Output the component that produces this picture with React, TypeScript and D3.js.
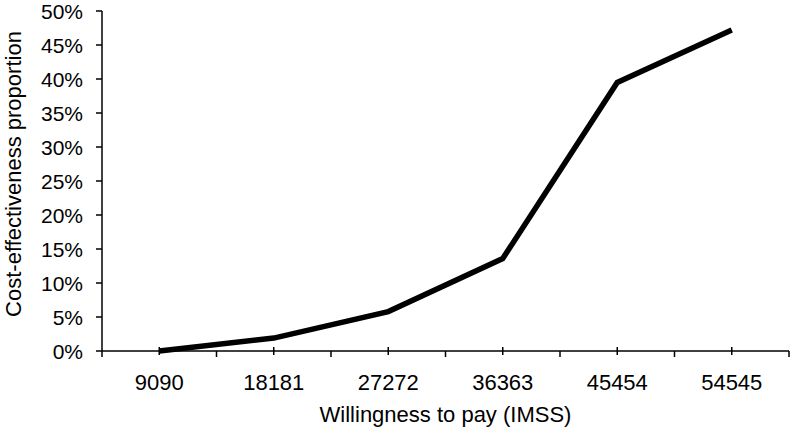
import React from 'react';
import * as d3 from 'd3';

// willingness to pay thresholds (IMSS) and the share found cost-effective
const categories = ['9090', '18181', '27272', '36363', '45454', '54545'];
const proportion = [0, 1.9, 5.8, 13.6, 39.5, 47.2];
const yTicks = [0, 5, 10, 15, 20, 25, 30, 35, 40, 45, 50];

const width = 793;
const height = 431;
const left = 102;
const right = 789;
const top = 11;
const bottom = 351;
const font = '"Liberation Sans", Arial, Helvetica, sans-serif';

export default function App() {
  const x = d3.scaleBand().domain(categories).range([left, right]);
  const y = d3.scaleLinear().domain([0, 50]).range([bottom, top]);
  const cx = (c: string) => (x(c) as number) + x.bandwidth() / 2;

  const line = d3
    .line<number>()
    .x((d, i) => cx(categories[i]))
    .y((d) => y(d));

  const bounds = categories.map((c) => x(c) as number).concat([right]);

  return (
    <svg
      width={width}
      height={height}
      style={{ position: 'absolute', left: 0, top: 0, background: '#fff' }}
      fontFamily={font}
    >
      {/* y axis */}
      <line x1={left} x2={left} y1={y(50)} y2={y(0)} stroke="#000" strokeWidth={1.5} />
      {yTicks.map((t) => (
        <g key={t}>
          <line x1={left - 6} x2={left} y1={y(t)} y2={y(t)} stroke="#000" strokeWidth={1.5} />
          <text x={83} y={y(t)} dy="0.36em" textAnchor="end" fontSize={21}>
            {t + '%'}
          </text>
        </g>
      ))}
      <text
        transform={`translate(21,${174}) rotate(-90)`}
        textAnchor="middle"
        fontSize={22}
      >
        Cost-effectiveness proportion
      </text>

      {/* x axis */}
      <line x1={left} x2={right} y1={bottom} y2={bottom} stroke="#000" strokeWidth={1.5} />
      {bounds.map((b, i) => (
        <line key={'b' + i} x1={b} x2={b} y1={bottom} y2={bottom + 6} stroke="#000" strokeWidth={1.5} />
      ))}
      {categories.map((c) => (
        <g key={c}>
          <line x1={cx(c)} x2={cx(c)} y1={bottom - 4} y2={bottom + 4} stroke="#000" strokeWidth={1.5} />
          <text x={cx(c)} y={390} textAnchor="middle" fontSize={22}>
            {c}
          </text>
        </g>
      ))}
      <text x={(left + right) / 2} y={422} textAnchor="middle" fontSize={22}>
        Willingness to pay (IMSS)
      </text>

      <path
        d={line(proportion) || ''}
        fill="none"
        stroke="#000"
        strokeWidth={5.5}
        strokeLinejoin="miter"
      />
    </svg>
  );
}
